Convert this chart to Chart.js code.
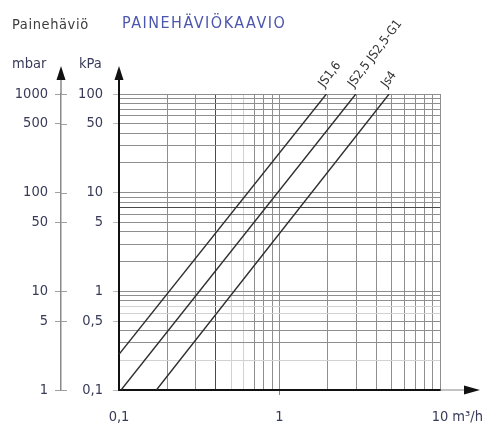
<!DOCTYPE html>
<html>
<head>
<meta charset="utf-8">
<script src="https://cdn.jsdelivr.net/npm/chart.js@4.4.1/dist/chart.umd.min.js"></script>
<style>
  html, body { margin: 0; padding: 0; background: #ffffff; }
  #wrap { position: relative; width: 486px; height: 428px; }
  canvas { display: block; }
</style>
</head>
<body>
<div id="wrap"><canvas id="c" width="486" height="428"></canvas></div>
<script>
// Pressure drop vs. flow for the JS valve sizes (log-log)
const seriesNames = ['JS1,6', 'JS2,5 JS2,5-G1', 'Js4'];
const flowJS16 = [0.1, 1.96];     // m³/h
const dpJS16   = [0.23, 100];     // kPa
const flowJS25 = [0.103, 2.99];
const dpJS25   = [0.1, 100];
const flowJS4  = [0.171, 4.82];
const dpJS4    = [0.1, 100];

// Labelled ticks
const xTickLabels   = [0.1, 1, 10];
const kpaTickLabels = [0.1, 0.5, 1, 5, 10, 50, 100];
const mbarTickLabels = [1, 5, 10, 50, 100, 500, 1000];

const FONT = "'DejaVu Sans Condensed', 'DejaVu Sans', sans-serif";
const TEXT = '#383c58';
const LABEL_SIZE = 14.5;

// 1..9 steps per decade, used for the grid
function logSteps(min, max) {
  const out = [];
  for (let d = min; d < max * 0.999; d *= 10) {
    for (let k = 1; k <= 9; k++) out.push(Number((k * d).toPrecision(6)));
  }
  out.push(max);
  return out;
}
const near = (a, b) => Math.abs(a - b) < 1e-9 * Math.max(1, b);
const fmt = v => String(v).replace('.', ',');
const pts = (xs, ys) => xs.map((x, i) => ({ x: x, y: ys[i] }));

const lightX = [0.5, 0.6], darkX = [0.4];
const lightY = [0.2, 0.6, 0.7], darkY = [7];

function gridColor(v, light, dark) {
  if (light.some(l => near(v, l))) return '#d2d2d2';
  if (dark.some(l => near(v, l))) return '#4a4a4a';
  return '#8e8e8e';
}

const decor = {
  id: 'decor',
  afterDraw(chart) {
    const ctx = chart.ctx;
    const ca = chart.chartArea;
    const ym = chart.scales.ym;
    const xs = chart.scales.x;
    ctx.save();

    // header texts
    ctx.textBaseline = 'alphabetic';
    ctx.textAlign = 'left';
    ctx.fillStyle = '#3c3c3c';
    ctx.font = '14.5px ' + FONT;
    ctx.letterSpacing = '0.6px';
    ctx.fillText('Painehäviö', 12, 29);
    ctx.fillStyle = '#4c56ad';
    ctx.font = '16px ' + FONT;
    ctx.letterSpacing = '1.5px';
    ctx.fillText('PAINEHÄVIÖKAAVIO', 122, 28);
    ctx.letterSpacing = '0px';
    ctx.fillStyle = TEXT;
    ctx.font = LABEL_SIZE + 'px ' + FONT;
    ctx.fillText('mbar', 12, 68);
    ctx.fillText('kPa', 79, 68);

    // mbar axis: extension upwards and arrow
    const mx = ym.right;
    ctx.strokeStyle = '#8a8a8a';
    ctx.lineWidth = 1.5;
    ctx.beginPath();
    ctx.moveTo(mx, ca.top);
    ctx.lineTo(mx, 76);
    ctx.stroke();
    // tick marks crossing to the right of the mbar axis
    ctx.strokeStyle = '#a0a0a0';
    ctx.lineWidth = 1;
    mbarTickLabels.forEach(v => {
      const py = Math.round(ym.getPixelForValue(v)) + 0.5;
      ctx.beginPath();
      ctx.moveTo(mx, py);
      ctx.lineTo(mx + 6, py);
      ctx.stroke();
    });

    // kPa axis extension upwards
    const kx = ca.left;
    ctx.strokeStyle = '#111';
    ctx.lineWidth = 2;
    ctx.beginPath();
    ctx.moveTo(kx, ca.top);
    ctx.lineTo(kx, 76);
    ctx.stroke();

    ctx.fillStyle = '#111';
    [mx, kx].forEach(ax => {
      ctx.beginPath();
      ctx.moveTo(ax, 66);
      ctx.lineTo(ax - 4.5, 80);
      ctx.lineTo(ax + 4.5, 80);
      ctx.closePath();
      ctx.fill();
    });

    // flow axis extension and arrow
    const by = ca.bottom;
    ctx.strokeStyle = '#888';
    ctx.lineWidth = 1;
    ctx.beginPath();
    ctx.moveTo(ca.right, by);
    ctx.lineTo(466, by);
    ctx.stroke();
    ctx.fillStyle = '#111';
    ctx.beginPath();
    ctx.moveTo(480, by);
    ctx.lineTo(464, by - 4.5);
    ctx.lineTo(464, by + 4.5);
    ctx.closePath();
    ctx.fill();

    // unit after the last flow label, on the same line as the tick labels
    const items = xs.getLabelItems();
    const last = items[items.length - 1];
    ctx.fillStyle = TEXT;
    ctx.font = LABEL_SIZE + 'px ' + FONT;
    ctx.textAlign = 'left';
    ctx.textBaseline = last.options.textBaseline || 'middle';
    const lastW = ctx.measureText(String(last.label)).width;
    ctx.fillText('m³/h', last.options.translation[0] + lastW / 2 + 4, last.options.translation[1] + (last.textOffset || 0));

    // rotated series names at the upper end of each line
    ctx.fillStyle = '#333';
    ctx.font = '12.5px ' + FONT;
    ctx.textAlign = 'left';
    ctx.textBaseline = 'middle';
    chart.data.datasets.forEach((ds, i) => {
      const meta = chart.getDatasetMeta(i);
      const p = meta.data[meta.data.length - 1];
      ctx.save();
      ctx.translate(p.x - 5, p.y - 8);
      ctx.rotate(-53 * Math.PI / 180);
      ctx.fillText(seriesNames[i], 0, 0);
      ctx.restore();
    });

    ctx.restore();
  }
};

const lineStyle = {
  showLine: true,
  pointRadius: 0,
  borderColor: '#2e2e2e',
  borderWidth: 1.4,
  fill: false,
  tension: 0
};

new Chart(document.getElementById('c'), {
  type: 'scatter',
  data: {
    datasets: [
      Object.assign({ label: seriesNames[0], data: pts(flowJS16, dpJS16) }, lineStyle),
      Object.assign({ label: seriesNames[1], data: pts(flowJS25, dpJS25) }, lineStyle),
      Object.assign({ label: seriesNames[2], data: pts(flowJS4, dpJS4) }, lineStyle)
    ]
  },
  options: {
    responsive: false,
    animation: false,
    devicePixelRatio: 1,
    layout: { padding: { top: 94, right: 46, bottom: 0, left: 0 } },
    plugins: { legend: { display: false }, tooltip: { enabled: false } },
    scales: {
      x: {
        type: 'logarithmic',
        position: 'bottom',
        min: 0.1,
        max: 10,
        afterBuildTicks: s => { s.ticks = logSteps(0.1, 10).map(v => ({ value: v })); },
        afterFit: s => { s.height = 38; },
        border: { color: '#111', width: 2 },
        grid: {
          color: c => gridColor(c.tick.value, lightX, darkX),
          lineWidth: 1,
          tickLength: 5,
          tickColor: c => near(c.tick.value, 1) ? '#888' : 'rgba(0,0,0,0)'
        },
        ticks: {
          autoSkip: false,
          maxRotation: 0,
          padding: 14,
          color: TEXT,
          font: { family: FONT, size: LABEL_SIZE },
          callback: v => xTickLabels.some(t => near(v, t)) ? fmt(v) : ''
        }
      },
      y: {
        type: 'logarithmic',
        position: 'left',
        weight: 0,
        min: 0.1,
        max: 100,
        afterBuildTicks: s => { s.ticks = logSteps(0.1, 100).map(v => ({ value: v })); },
        afterFit: s => { s.width = 58; },
        border: { color: '#111', width: 2 },
        grid: {
          color: c => gridColor(c.tick.value, lightY, darkY),
          lineWidth: 1,
          tickLength: 6,
          tickColor: c => kpaTickLabels.some(t => near(c.tick.value, t)) ? '#bbb' : 'rgba(0,0,0,0)'
        },
        ticks: {
          autoSkip: false,
          padding: 10,
          color: TEXT,
          font: { family: FONT, size: LABEL_SIZE },
          callback: v => kpaTickLabels.some(t => near(v, t)) ? fmt(v) : ''
        }
      },
      ym: {
        type: 'logarithmic',
        position: 'left',
        weight: 1,
        min: 1,
        max: 1000,
        afterBuildTicks: s => { s.ticks = mbarTickLabels.map(v => ({ value: v })); },
        afterFit: s => { s.width = 61; },
        border: { color: '#8a8a8a', width: 1.5 },
        grid: {
          drawOnChartArea: false,
          tickLength: 6,
          tickColor: '#a0a0a0'
        },
        ticks: {
          autoSkip: false,
          padding: 7,
          color: TEXT,
          font: { family: FONT, size: LABEL_SIZE },
          callback: v => fmt(v)
        }
      }
    }
  },
  plugins: [decor]
});
</script>
</body>
</html>
